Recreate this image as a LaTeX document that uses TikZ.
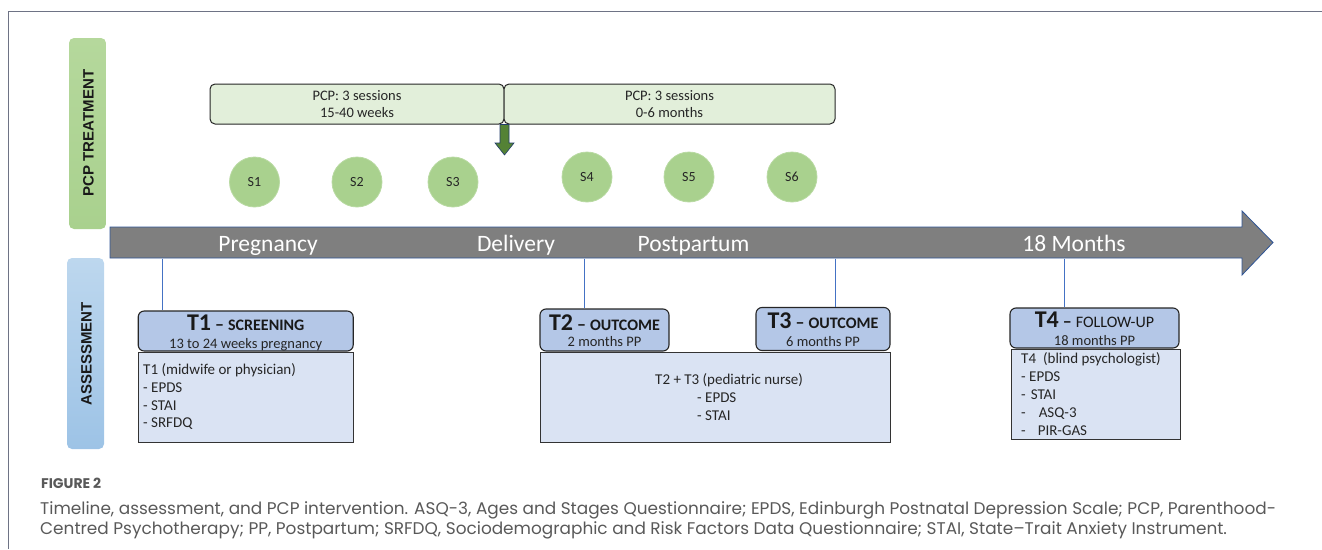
\documentclass[tikz,border=0pt]{standalone}
\usepackage{fontspec}
\setmainfont{Carlito}
\newfontfamily\capfont{Poppins}
\newfontfamily\barfont{Liberation Sans}
\newcommand{\fsz}[2]{\fontsize{#1pt}{#2pt}\selectfont}
\definecolor{pcpgreen}{HTML}{A9D18E}
\definecolor{pcpgreentop}{HTML}{B5D89C}
\definecolor{circgreen}{HTML}{A9D18E}
\definecolor{circedge}{HTML}{B9DAA3}
\definecolor{lightgreen}{HTML}{E2EFDA}
\definecolor{darkgreen}{HTML}{548235}
\definecolor{tlgray}{HTML}{7F7F7F}
\definecolor{tledge}{HTML}{2F5597}
\definecolor{hdrblue}{HTML}{B4C7E7}
\definecolor{bodyblue}{HTML}{DAE3F3}
\definecolor{lineblue}{HTML}{4472C4}
\definecolor{asstop}{HTML}{BDD7EE}
\definecolor{assbot}{HTML}{9DC3E6}
\definecolor{framegray}{HTML}{6E7385}
\definecolor{capgray}{HTML}{595959}
\tikzset{
 sidebar/.style={rounded corners=5pt, minimum width=37pt, minimum height=191pt, inner sep=0pt},
 sidetext/.style={font=\barfont\bfseries\fsz{15}{18}, rotate=90, text=black!90},
 pcpbox/.style={draw=black!85, line width=1pt, fill=lightgreen, rounded corners=5pt, minimum height=40pt, inner sep=0pt, align=center, font=\fsz{14.5}{17}, text=black!85},
 sess/.style={circle, fill=circgreen, draw=circedge, line width=0.8pt, minimum size=50pt, inner sep=0pt, font=\fsz{14}{16}, text=black!85},
 phase/.style={anchor=base, font=\fsz{23.5}{28}, text=white},
 hdrbox/.style={draw=black!85, line width=1.1pt, fill=hdrblue, rounded corners=6pt, inner sep=0pt},
 bodybox/.style={draw=black!80, line width=1pt, fill=bodyblue, inner sep=0pt},
 ttl/.style={anchor=base, font=\fsz{24}{28}\bfseries, text=black!90},
 subt/.style={anchor=base, font=\fsz{14.5}{17}, text=black!85},
 btxt/.style={anchor=base west, font=\fsz{15}{18}, text=black!85, inner sep=0pt},
 vline/.style={draw=lineblue, line width=0.8pt},
 captxt/.style={anchor=base west, font=\capfont\fsz{16.9}{19}, text=capgray, inner sep=0pt},
}
\begin{document}
\begin{tikzpicture}[x=1pt,y=-1pt]
\useasboundingbox (0,0) rectangle (1322,549);
% frame
\draw[framegray, line width=0.8pt] (1322,11) -- (8.5,11) -- (8.5,549);
% side bars
\node[sidebar, top color=pcpgreentop, bottom color=pcpgreen] (pcpbar) at (87.5,133.5) {};
\node[sidetext] (pcplab) at (88.5,133) {PCP TREATMENT};
\node[sidebar, top color=asstop, bottom color=assbot] (assbar) at (85.5,353.5) {};
\node[sidetext] (asslab) at (86.5,354) {ASSESSMENT};
% PCP boxes
\node[pcpbox, minimum width=294pt] (p1) at (357,104) {PCP: 3 sessions\\15-40 weeks};
\node[pcpbox, minimum width=331pt] (p2) at (669.5,104) {PCP: 3 sessions\\0-6 months};
% delivery arrow
\filldraw[fill=darkgreen, draw=tledge!70!black, line width=0.6pt]
 (500,124.5) -- (509,124.5) -- (509,143) -- (514,143) -- (504.5,155) -- (495,143) -- (500,143) -- cycle;
% sessions
\node[sess] (s1) at (254.5,182) {S1};
\node[sess] (s2) at (357,182) {S2};
\node[sess] (s3) at (453,182) {S3};
\node[sess] (s4) at (587,177) {S4};
\node[sess] (s5) at (689,177) {S5};
\node[sess] (s6) at (792,177) {S6};
% timeline
\filldraw[fill=tlgray, draw=tledge, line width=0.8pt]
 (110,227) -- (1242,227) -- (1242,211) -- (1273,242.5) -- (1242,275) -- (1242,258) -- (110,258) -- cycle;
\node[phase] (ph1) at (268,251) {Pregnancy};
\node[phase] (ph2) at (516,251) {Delivery};
\node[phase] (ph3) at (693.5,251) {Postpartum};
\node[phase] (ph4) at (1074,251) {18 Months};
\coordinate (v1) at (162.5,258.5);
\coordinate (v2) at (584,258.5);
\coordinate (v3) at (835,258.5);
\coordinate (v4) at (1064,258.5);
% assessment boxes
\node[hdrbox, minimum width=215pt, minimum height=40pt] (t1h) at (245.7,331) {};
\node[bodybox, minimum width=215pt, minimum height=90pt] (t1b) at (245.5,397) {};
\node[hdrbox, minimum width=129pt, minimum height=42pt] (t2h) at (604.5,330) {};
\node[hdrbox, minimum width=134pt, minimum height=43pt] (t3h) at (823,329) {};
\node[bodybox, minimum width=350pt, minimum height=90pt] (t23b) at (715,397.5) {};
\node[hdrbox, minimum width=169pt, minimum height=40pt] (t4h) at (1094.5,328) {};
\node[bodybox, minimum width=169pt, minimum height=90pt] (t4b) at (1095.5,394) {};
\draw[vline] (v1) -- (v1 |- t1h.north);
\draw[vline] (v2) -- (v2 |- t2h.north);
\draw[vline] (v3) -- (v3 |- t3h.north);
\draw[vline] (v4) -- (v4 |- t4h.north);
% header texts
\node[ttl] (t1t) at (245.7,330) {T1\,{\fsz{18}{18}–}\,{\fsz{16}{18}SCREENING}};
\node[subt] (t1s) at (245.7,348.5) {13 to 24 weeks pregnancy};
\node[ttl] (t2t) at (604.5,330) {T2\,{\fsz{18}{18}–}\,{\fsz{16}{18}OUTCOME}};
\node[subt] (t2s) at (604.5,346) {2 months PP};
\node[ttl] (t3t) at (823,328) {T3\,{\fsz{18}{18}–}\,{\fsz{16}{18}OUTCOME}};
\node[subt] (t3s) at (823,346.5) {6 months PP};
\node[ttl] (t4t) at (1094.5,327) {T4\,{\fsz{18}{18}–}\,{\fsz{16}{18}\mdseries FOLLOW-UP}};
\node[subt] (t4s) at (1094.5,345.5) {18 months PP};
% body texts
\node[btxt] (b11) at (143,374) {T1 (midwife or physician)};
\node[btxt] (b12) at (143,392) {- EPDS};
\node[btxt] (b13) at (143,410) {- STAI};
\node[btxt] (b14) at (143,427.5) {- SRFDQ};
\node[btxt] (b21) at (655,384.3) {T2 + T3 (pediatric nurse)};
\node[btxt] (b22) at (697,402.7) {- EPDS};
\node[btxt] (b23) at (697,420) {- STAI};
\node[btxt] (b41) at (1021,363.3) {T4\hspace{7pt}(blind psychologist)};
\node[btxt] (b42) at (1021,381.7) {- EPDS};
\node[btxt] (b43) at (1021,399) {-\hspace{5pt}STAI};
\node[btxt] (b44) at (1021,417.3) {-\hspace{13pt}ASQ-3};
\node[btxt] (b45) at (1021,435) {-\hspace{12pt}PIR-GAS};
% caption
\node[captxt, font=\capfont\bfseries\fsz{14}{16}] (fig) at (41,488) {FIGURE 2};
\node[captxt] (cap1) at (40,514.7) {Timeline, assessment, and PCP intervention. ASQ-3, Ages and Stages Questionnaire; EPDS, Edinburgh Postnatal Depression Scale; PCP, Parenthood-};
\node[captxt] (cap2) at (40,534.3) {Centred Psychotherapy; PP, Postpartum; SRFDQ, Sociodemographic and Risk Factors Data Questionnaire; STAI, State–Trait Anxiety Instrument.};
\end{tikzpicture}
\end{document}
